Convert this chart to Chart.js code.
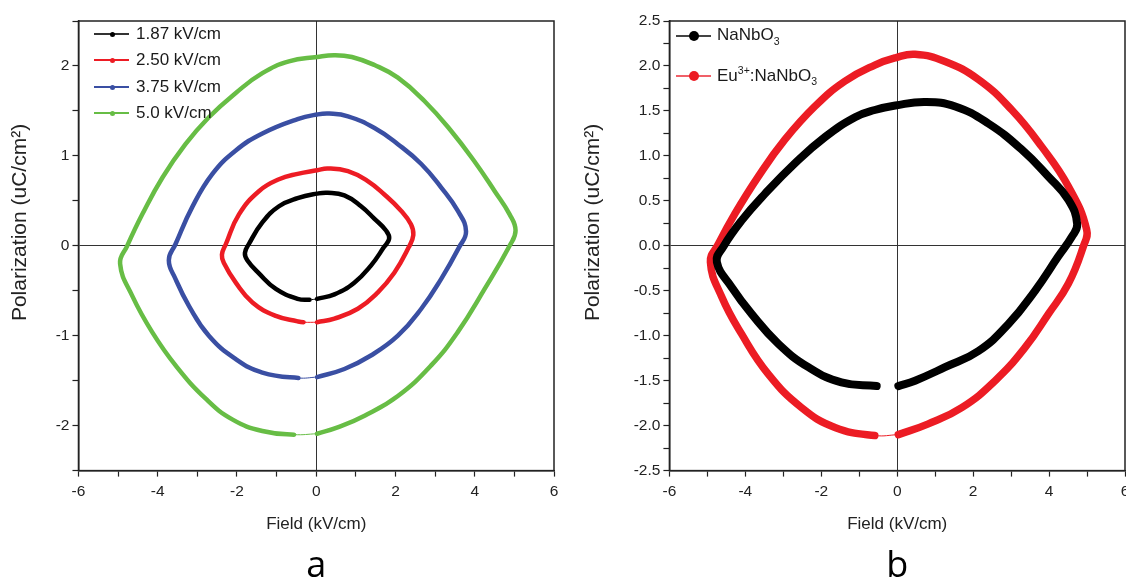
<!DOCTYPE html>
<html>
<head>
<meta charset="utf-8">
<script src="https://cdn.jsdelivr.net/npm/chart.js@4.4.1/dist/chart.umd.min.js"></script>
<style>
  body { margin: 0; width: 1126px; height: 583px; overflow: hidden; background: #fff; font-family: "Liberation Sans", Arial, sans-serif; }
  .panel { position: absolute; top: 0; }
  .legend { position: absolute; color: #1a1a1a; }
  .legend .row { position: absolute; left: 0; white-space: nowrap; display: flex; align-items: center; }
  .legend .icon { position: relative; display: inline-block; }
  .legend .icon .ln { position: absolute; left: 0; right: 0; }
  .legend .icon .dot { position: absolute; border-radius: 50%; }
  .legend sub, .legend sup { font-size: 62%; }
  .legend sub { vertical-align: -0.45em; }
</style>
</head>
<body>
<div class="panel" id="panelA" style="left:0;width:575px;height:583px"><canvas id="chartA" width="575" height="583"></canvas></div>
<div class="panel" id="panelB" style="left:575px;width:565px;height:583px"><canvas id="chartB" width="565" height="583"></canvas></div>
<script>
// ---- panel a : P-E loops at four fields ----
const seriesA = ['1.87 kV/cm', '2.50 kV/cm', '3.75 kV/cm', '5.0 kV/cm'];
const colorsA = ['#000000', '#ed1c24', '#3a4fa3', '#67bd45'];

const field187 = [0.02, 0.46, 0.96, 1.38, 1.70, 1.84, 1.76, 1.47, 1.13, 0.71, 0.29, 0.02, -0.47, -0.94, -1.36, -1.70, -1.80, -1.74, -1.44, -1.02, -0.47, -0.17, 0.02];
const pol187   = [-0.59, -0.54, -0.41, -0.22, -0.02, 0.08, 0.17, 0.30, 0.44, 0.56, 0.59, 0.58, 0.53, 0.44, 0.26, 0.02, -0.08, -0.16, -0.31, -0.48, -0.59, -0.60, -0.59];

const field250 = [0.02, 0.46, 1.05, 1.55, 1.97, 2.33, 2.45, 2.39, 2.14, 1.72, 1.30, 0.80, 0.29, 0.02, -0.47, -0.94, -1.44, -1.95, -2.28, -2.38, -2.33, -2.03, -1.61, -1.02, -0.47, -0.32, 0.02];
const pol250   = [-0.85, -0.81, -0.70, -0.52, -0.30, -0.02, 0.12, 0.24, 0.39, 0.57, 0.72, 0.83, 0.86, 0.84, 0.80, 0.74, 0.61, 0.35, 0.02, -0.10, -0.19, -0.41, -0.63, -0.78, -0.84, -0.85, -0.85];

const field375 = [0.02, 0.71, 1.38, 2.06, 2.65, 3.15, 3.60, 3.78, 3.57, 3.15, 2.65, 2.06, 1.47, 0.80, 0.33, 0.02, -0.47, -1.36, -2.03, -2.62, -3.13, -3.55, -3.72, -3.55, -3.21, -2.71, -2.03, -1.36, -0.45, 0.02];
const pol375   = [-1.46, -1.37, -1.22, -1.00, -0.70, -0.37, -0.02, 0.16, 0.39, 0.65, 0.91, 1.13, 1.31, 1.44, 1.47, 1.46, 1.41, 1.25, 1.06, 0.80, 0.43, 0.02, -0.16, -0.37, -0.67, -1.00, -1.26, -1.41, -1.47, -1.46];

const field500 = [0.02, 0.54, 1.22, 2.06, 2.90, 3.57, 4.25, 4.88, 5.03, 4.88, 4.50, 3.99, 3.40, 2.73, 2.06, 1.47, 0.90, 0.45, 0.02, -0.69, -1.36, -2.03, -2.71, -3.30, -3.88, -4.39, -4.77, -4.95, -4.64, -4.14, -3.55, -2.79, -2.12, -1.36, -0.56, 0.02];
const pol500   = [-2.09, -2.02, -1.89, -1.67, -1.33, -0.96, -0.48, 0.00, 0.17, 0.35, 0.61, 0.94, 1.28, 1.61, 1.87, 2.01, 2.10, 2.12, 2.10, 2.05, 1.92, 1.70, 1.43, 1.13, 0.76, 0.35, 0.00, -0.20, -0.56, -0.96, -1.33, -1.70, -1.93, -2.06, -2.10, -2.09];

// ---- panel b : NaNbO3 vs Eu3+:NaNbO3 ----
const seriesB = ['NaNbO₃', 'Eu³⁺:NaNbO₃'];
const colorsB = ['#000000', '#ec1c24'];

const fieldNN = [0.03, 0.47, 1.26, 2.14, 2.93, 3.63, 4.24, 4.60, 4.74, 4.51, 3.98, 3.28, 2.40, 1.53, 0.74, -0.05, -0.59, -1.11, -1.90, -2.69, -3.48, -4.10, -4.58, -4.75, -4.36, -3.83, -3.13, -2.34, -1.47, -0.54];
const polNN   = [-1.56, -1.50, -1.35, -1.17, -0.87, -0.50, -0.12, 0.10, 0.24, 0.51, 0.77, 1.07, 1.36, 1.55, 1.60, 1.56, 1.51, 1.43, 1.21, 0.92, 0.58, 0.28, -0.01, -0.18, -0.46, -0.76, -1.09, -1.35, -1.52, -1.56];

const fieldEu = [0.03, 0.82, 1.70, 2.58, 3.37, 3.98, 4.51, 4.90, 4.99, 4.51, 3.81, 3.02, 2.14, 1.26, 0.47, -0.05, -0.59, -1.38, -2.17, -2.96, -3.66, -4.27, -4.71, -4.92, -4.62, -4.10, -3.39, -2.52, -1.64, -0.59, 0.03];
const polEu   = [-2.10, -1.98, -1.80, -1.50, -1.13, -0.76, -0.42, -0.01, 0.18, 0.66, 1.10, 1.51, 1.85, 2.05, 2.13, 2.09, 2.01, 1.83, 1.55, 1.18, 0.77, 0.36, 0.02, -0.18, -0.57, -0.98, -1.43, -1.80, -2.02, -2.11, -2.10];

const xTicks = [-6, -4, -2, 0, 2, 4, 6];

function pts(xs, ys) { return xs.map((x, i) => ({ x: x, y: ys[i] })); }

// last segment of a closed loop is drawn thin (the sparse return part)
function loop(label, color, xs, ys, width, closed) {
  const n = xs.length;
  return {
    label: label,
    data: pts(xs, ys),
    showLine: true,
    borderColor: color,
    backgroundColor: color,
    borderWidth: width,
    pointRadius: 0,
    tension: 0.45,
    borderCapStyle: 'round',
    borderJoinStyle: 'round',
    segment: {
      borderWidth: ctx => (closed && ctx.p1DataIndex === n - 1) ? 1 : width
    }
  };
}

const FONT = "'Liberation Sans', Arial, sans-serif";
const AXIS = '#222';
// the y title sits a little above the plot centre in the original figure
const Y_TITLE = '        Polarization (uC/cm²)';

const framePlugin = {
  id: 'frame',
  afterDraw(chart) {
    const a = chart.chartArea, c = chart.ctx;
    c.save();
    c.strokeStyle = AXIS;
    c.lineWidth = 1.5;
    c.strokeRect(a.left, a.top, a.right - a.left, a.bottom - a.top);
    c.restore();
  }
};

function zeroGrid(ctx) { return ctx.tick && Math.abs(ctx.tick.value) < 1e-9 ? '#333' : 'rgba(0,0,0,0)'; }

function makeOptions(cfg) {
  return {
    responsive: false,
    animation: false,
    layout: { padding: cfg.padding },
    plugins: {
      legend: { display: false },
      tooltip: { enabled: false },
      title: {
        display: true, text: cfg.tag, position: 'bottom', fullSize: false,
        color: '#000', font: { family: "'Open Sans', 'Noto Sans', sans-serif", size: 36, weight: 'normal', lineHeight: 0.9 },
        padding: { top: 16, bottom: 0 }
      }
    },
    scales: {
      x: {
        type: 'linear', min: -6, max: 6,
        border: { color: AXIS, width: 1.5 },
        grid: { color: zeroGrid, lineWidth: 1, tickLength: 6, tickColor: AXIS, tickWidth: 1.2 },
        ticks: {
          stepSize: 1, autoSkip: false, maxRotation: 0, padding: 6,
          color: '#222', font: { family: FONT, size: 15.5 },
          callback: v => xTicks.includes(v) ? String(v) : ''
        },
        title: { display: true, text: 'Field (kV/cm)', color: '#222', font: { family: FONT, size: 17 }, padding: { top: 7, bottom: 0 } }
      },
      y: {
        type: 'linear', min: -2.5, max: 2.5,
        border: { color: AXIS, width: 1.5 },
        grid: { color: zeroGrid, lineWidth: 1, tickLength: 6, tickColor: AXIS, tickWidth: 1.2 },
        ticks: {
          stepSize: cfg.yStep, autoSkip: false, padding: 3,
          color: '#222', font: { family: FONT, size: 15.5 },
          callback: cfg.yLabel
        },
        title: { display: true, text: Y_TITLE, color: '#222', font: { family: FONT, size: 21 }, padding: { top: 0, bottom: cfg.yTitleGap } }
      }
    }
  };
}

const chartA = new Chart(document.getElementById('chartA'), {
  type: 'scatter',
  data: {
    datasets: [
      loop(seriesA[0], colorsA[0], field187, pol187, 4.5, true),
      loop(seriesA[1], colorsA[1], field250, pol250, 4.5, true),
      loop(seriesA[2], colorsA[2], field375, pol375, 4.5, true),
      loop(seriesA[3], colorsA[3], field500, pol500, 4.5, true)
    ]
  },
  options: makeOptions({
    tag: 'a',
    padding: { left: 8, right: 21, top: 21, bottom: 0 },
    yStep: 0.5,
    yTitleGap: 19.5,
    yLabel: v => Number.isInteger(v) ? String(v) : ''
  }),
  plugins: [framePlugin]
});

const chartB = new Chart(document.getElementById('chartB'), {
  type: 'scatter',
  data: {
    datasets: [
      loop(seriesB[0], colorsB[0], fieldNN, polNN, 8, false),
      loop(seriesB[1], colorsB[1], fieldEu, polEu, 7.5, true)
    ]
  },
  options: makeOptions({
    tag: 'b',
    padding: { left: 5.5, right: 15, top: 21, bottom: 0 },
    yStep: 0.25,
    yTitleGap: 25,
    yLabel: v => Math.abs(v * 2 - Math.round(v * 2)) < 1e-6 ? v.toFixed(1) : ''
  }),
  plugins: [framePlugin]
});

// HTML legends placed inside the plot areas, built from the datasets
function richLabel(s) {
  return s.replace(/₃/g, '<sub>3</sub>').replace(/³⁺/g, '<sup>3+</sup>');
}
function buildLegend(chart, panelId, o) {
  const area = chart.chartArea;
  const rowH = Math.round(o.fontSize * 1.2);
  const box = document.createElement('div');
  box.className = 'legend';
  box.style.left = Math.round(area.left + o.dx) + 'px';
  box.style.top = Math.round(area.top + o.dy) + 'px';
  box.style.fontSize = o.fontSize + 'px';
  chart.data.datasets.forEach((ds, i) => {
    const row = document.createElement('div');
    row.className = 'row';
    row.style.top = Math.round(i * o.pitch - rowH / 2) + 'px';
    row.style.height = rowH + 'px';
    const icon = document.createElement('span');
    icon.className = 'icon';
    icon.style.width = o.lineLen + 'px';
    icon.style.height = rowH + 'px';
    icon.style.marginRight = o.gap + 'px';
    const mid = Math.round(rowH / 2);
    const ln = document.createElement('span');
    ln.className = 'ln';
    ln.style.height = o.lineW + 'px';
    ln.style.top = (mid - Math.floor(o.lineW / 2)) + 'px';
    ln.style.background = o.lineColors[i];
    const dot = document.createElement('span');
    dot.className = 'dot';
    dot.style.width = dot.style.height = (o.dotR * 2) + 'px';
    dot.style.left = (Math.round(o.lineLen / 2) - o.dotR) + 'px';
    dot.style.top = (mid - o.dotR + (o.lineW % 2 ? 0.5 : 0)) + 'px';
    dot.style.background = ds.borderColor;
    icon.appendChild(ln);
    icon.appendChild(dot);
    const txt = document.createElement('span');
    txt.innerHTML = richLabel(ds.label);
    row.appendChild(icon);
    row.appendChild(txt);
    box.appendChild(row);
  });
  document.getElementById(panelId).appendChild(box);
}

buildLegend(chartA, 'panelA', {
  dx: 16, dy: 13, pitch: 26.3, fontSize: 17, lineLen: 35, lineW: 2, dotR: 2.5, gap: 7,
  lineColors: ['#333', '#ed1c24', '#3a4fa3', '#67bd45']
});
buildLegend(chartB, 'panelB', {
  dx: 7, dy: 15, pitch: 39.5, fontSize: 17, lineLen: 35, lineW: 2, dotR: 5, gap: 6,
  lineColors: ['#444', '#f06068']
});
</script>
</body>
</html>
